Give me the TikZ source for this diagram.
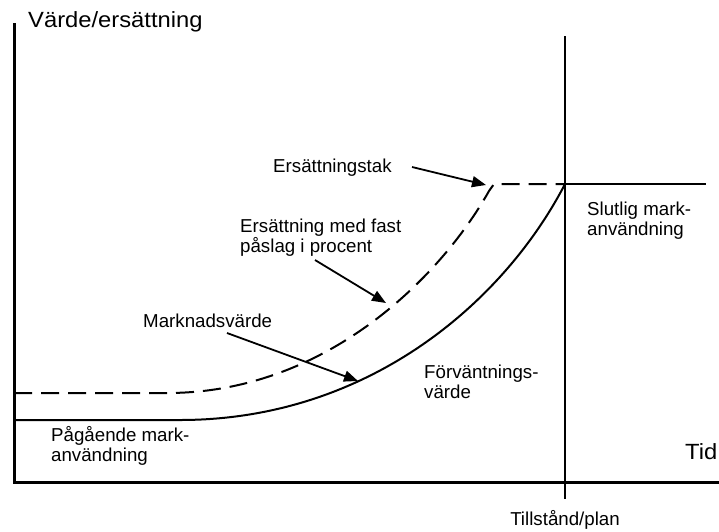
\documentclass[tikz,border=0pt]{standalone}
\usepackage{fontspec}
\setmainfont{Liberation Sans}
\newfontfamily\bigfont[FakeStretch=1.08]{Liberation Sans}
\usetikzlibrary{arrows.meta}
\begin{document}
\begin{tikzpicture}[x=1pt,y=-1pt,
  axis/.style={line width=3pt},
  guide/.style={line width=1.6pt},
  curve/.style={line width=2pt},
  capline/.style={curve,dash pattern=on 18pt off 9pt},
  pointer/.style={line width=1.8pt,-{Triangle[length=14pt,width=11pt]}},
  lbl/.style={font=\fontsize{18.7}{20}\selectfont,align=left,inner sep=0pt},
  ttl/.style={font=\bigfont\fontsize{22}{26}\selectfont,inner sep=0pt}]
\useasboundingbox (0,0) rectangle (719,531);
\fill[white] (0,0) rectangle (719,531);

% axes
\coordinate (o) at (14,482);
\coordinate (ytop) at (14,23);
\coordinate (xend) at (719,482);
\draw[axis] (ytop) -- (o) -- (xend);

% permit / plan time marker
\coordinate (ptop) at (565,36);
\coordinate (pbot) at (565,499);
\draw[guide] (ptop) -- (pbot);

% final land use level
\coordinate (top) at (565,184);
\coordinate (topend) at (706,184);
\draw[curve] (top) -- (topend);

% market value curve
\coordinate (m0) at (14,420);
\coordinate (m1) at (180,420);
\draw[curve] (m0) -- (m1) .. controls (370,420) and (505,300) .. (top);

% compensation with fixed percentage mark-up, capped
\coordinate (c0) at (14,393);
\coordinate (c1) at (167,393);
\coordinate (ccorner) at (494,184);
\draw[capline] (c0) -- (c1) .. controls (325,393) and (440,278) .. (489,191)
  -- (ccorner) -- (top);

% labels (two-line labels are placed by the baseline of their last line)
\node[ttl,anchor=base west] (title) at (28,27) {Värde/ersättning};
\node[ttl,anchor=base west] (tid) at (685,459) {Tid};
\node[lbl,anchor=base] (plan) at (565,525) {Tillstånd/plan};
\node[lbl,anchor=base west] (tak) at (273,172) {Ersättningstak};
\node[lbl,anchor=base west] (fast) at (240,252) {Ersättning med fast\\påslag i procent};
\node[lbl,anchor=base west] (mv) at (143,327) {Marknadsvärde};
\node[lbl,anchor=base west] (forv) at (424,398) {Förväntnings-\\värde};
\node[lbl,anchor=base west] (pag) at (51,461) {Pågående mark-\\användning};
\node[lbl,anchor=base west] (slut) at (587,235) {Slutlig mark-\\användning};

% pointers
\coordinate (takTip) at (486,185);
\coordinate (fastTip) at (386,303);
\coordinate (mvTip) at (358,381);
\draw[pointer] (412,167) -- (takTip);
\draw[pointer] (315,260) -- (fastTip);
\draw[pointer] (227,333) -- (mvTip);
\end{tikzpicture}
\end{document}
